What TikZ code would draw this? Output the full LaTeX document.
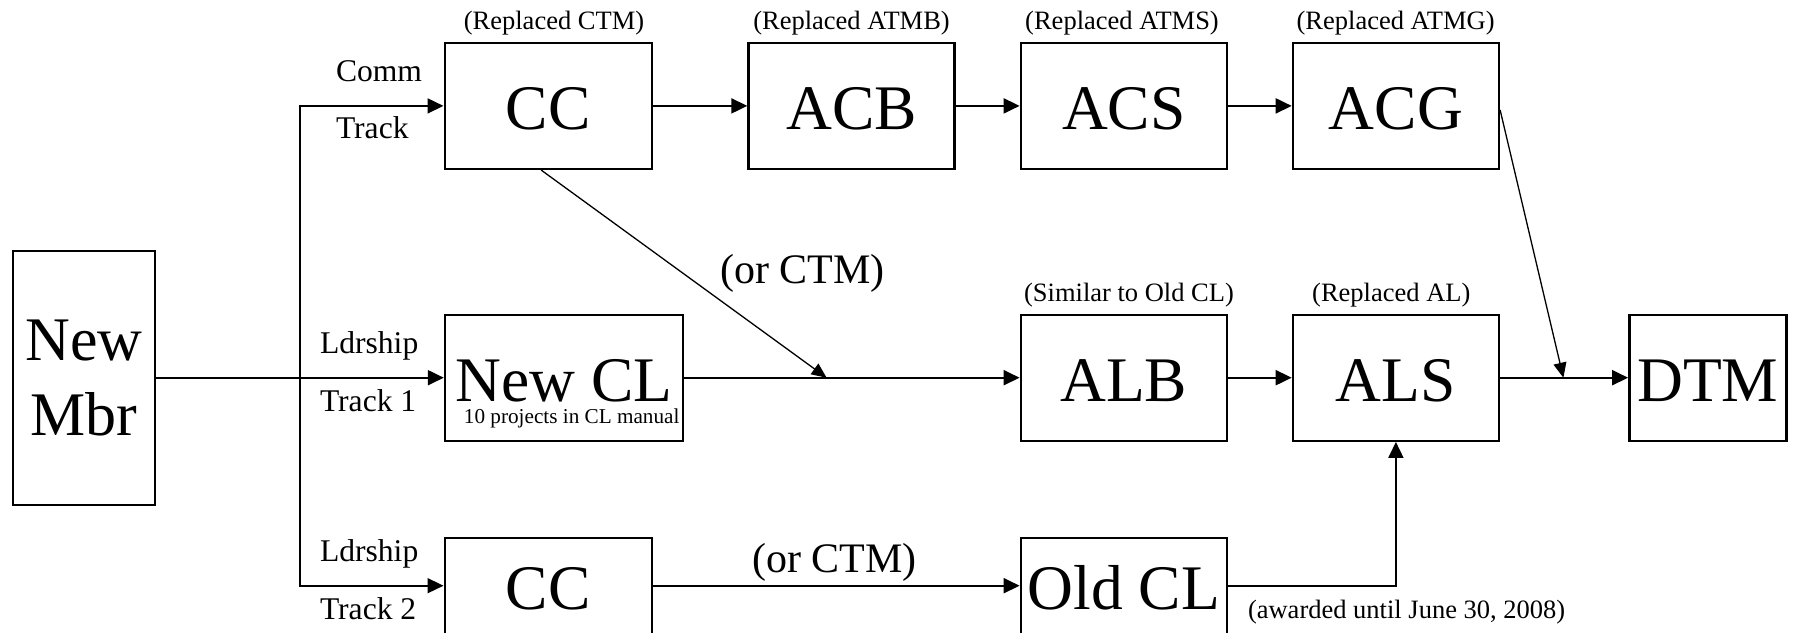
\documentclass[tikz,border=0pt]{standalone}
\usepackage{fontspec}
\setmainfont{Liberation Serif}
\usetikzlibrary{arrows.meta}
\tikzset{
  box/.style={draw, line width=2.4pt, rectangle, inner sep=0pt,
    font=\fontsize{63.5}{75}\selectfont, text height=48pt, text depth=0pt},
  arr/.style={-{Triangle[length=16pt,width=15pt]}, line width=2pt},
  thinarr/.style={-{Triangle[length=15pt,width=13pt]}, line width=1.3pt},
  lab/.style={inner sep=0pt, anchor=base, font=\fontsize{26.5}{30}\selectfont},
  trk/.style={inner sep=0pt, anchor=base west, font=\fontsize{31.6}{36}\selectfont},
  orctm/.style={inner sep=0pt, anchor=base, font=\fontsize{42}{48}\selectfont},
}
\begin{document}
\begin{tikzpicture}[x=1pt, y=-1pt]
\useasboundingbox (0,0) rectangle (1794,632);
\clip (0,0) rectangle (1794,632);
% boxes
\node[box, minimum width=142pt, minimum height=254pt, align=center,
  font=\fontsize{62}{75}\selectfont, text height=, text depth=] (mbr) at (83.8,377.7) {New\\Mbr};
\node[box, minimum width=207pt, minimum height=126pt] (cc1) at (548.2,105.9) {CC};
\node[box, minimum width=206pt, minimum height=126pt] (acb) at (851.5,105.9) {ACB};
\node[box, minimum width=206pt, minimum height=126pt] (acs) at (1123.8,105.9) {ACS};
\node[box, minimum width=206pt, minimum height=126pt] (acg) at (1395.9,105.9) {ACG};
\node[box, minimum width=238pt, minimum height=126pt] (ncl) at (564,377.7) {New CL};
\node[box, minimum width=206pt, minimum height=126pt] (alb) at (1123.8,377.7) {ALB};
\node[box, minimum width=206pt, minimum height=126pt] (als) at (1395.9,377.7) {ALS};
\node[box, minimum width=157pt, minimum height=126pt] (dtm) at (1707.8,377.7) {DTM};
\node[box, minimum width=207pt, minimum height=96pt] (cc2) at (548.2,585.7) {CC};
\node[box, minimum width=206pt, minimum height=96pt] (ocl) at (1123.8,585.7) {Old CL};
% small texts
\node[inner sep=0pt, anchor=base, font=\fontsize{21.2}{24}\selectfont] (man) at (571.7,423.3) {10 projects in CL manual};
\node[lab] (l1) at (554,29.3) {(Replaced CTM)};
\node[lab] (l2) at (851.5,29.3) {(Replaced ATMB)};
\node[lab] (l3) at (1122,29.3) {(Replaced ATMS)};
\node[lab] (l4) at (1395.6,29.3) {(Replaced ATMG)};
\node[lab] (l5) at (1129,301.7) {(Similar to Old CL)};
\node[lab] (l6) at (1391.3,301.7) {(Replaced AL)};
\node[lab] (l7) at (1406.6,618.3) {(awarded until June 30, 2008)};
\node[trk] (t1) at (335.8,81) {Comm};
\node[trk] (t2) at (335.8,138.3) {Track};
\node[trk] (t3) at (319.8,353.3) {Ldrship};
\node[trk] (t4) at (319.8,411.7) {Track 1};
\node[trk] (t5) at (319.8,561) {Ldrship};
\node[trk] (t6) at (319.8,619.3) {Track 2};
\node[orctm] (o1) at (802.3,283.3) {(or CTM)};
\node[orctm] (o2) at (834.7,572.7) {(or CTM)};
% junction points
\coordinate (br) at (299.7,377.7);
\coordinate (j1) at (826.6,377.7);
\coordinate (j2) at (1563.4,377.7);
% connectors
\draw[arr] (cc1) -- (acb);
\draw[arr] (acb) -- (acs);
\draw[arr] (acs) -- (acg);
\draw[arr] (mbr) -- (ncl);
\draw[arr] (ncl) -- (alb);
\draw[arr] (alb) -- (als);
\draw[arr] (als) -- (dtm);
\draw[arr] (cc2) -- (ocl);
\draw[arr, line width=1.7pt] (br) |- (cc1);
\draw[arr, line width=1.7pt] (br) |- (cc2);
\draw[arr, line width=1.7pt] (ocl) -| (als);
\draw[thinarr] ([xshift=-7pt]cc1.south) -- (j1);
\draw[thinarr] ([yshift=-4pt]acg.east) -- (j2);
\end{tikzpicture}
\end{document}
